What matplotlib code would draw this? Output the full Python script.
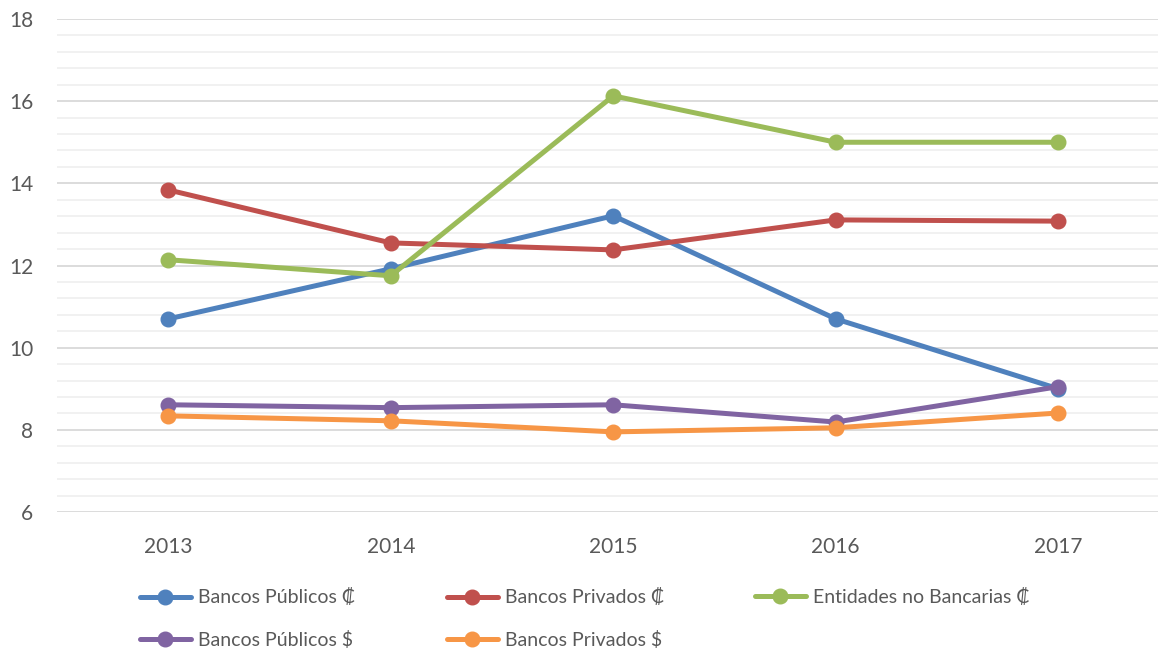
import matplotlib
matplotlib.use("Agg")
import matplotlib.pyplot as plt
from matplotlib.ticker import MultipleLocator

plt.rcParams['font.family'] = ['Lato', 'DejaVu Sans']

years = ["2013", "2014", "2015", "2016", "2017"]
series_names = ["Bancos Públicos ₡", "Bancos Privados ₡", "Entidades no Bancarias ₡",
                "Bancos Públicos $", "Bancos Privados $"]
publicos_col = [10.70, 11.92, 13.21, 10.70, 9.00]
privados_col = [13.84, 12.55, 12.38, 13.11, 13.08]
no_bancarias_col = [12.14, 11.75, 16.13, 15.00, 15.00]
publicos_usd = [8.61, 8.54, 8.61, 8.19, 9.05]
privados_usd = [8.34, 8.22, 7.95, 8.05, 8.41]
colors = ["#4f81bd", "#c0504d", "#9bbb59", "#8064a2", "#f79646"]

W, H = 1158, 654
fig = plt.figure(figsize=(W / 100, H / 100), dpi=100)
left, right, top, bottom = 57, 1158, 19, 512
ax = fig.add_axes([left / W, 1 - bottom / H, (right - left) / W, (bottom - top) / H])

x = list(range(len(years)))
all_series = [publicos_col, privados_col, no_bancarias_col, publicos_usd, privados_usd]
lines = []
for vals, name, c in zip(all_series, series_names, colors):
    ln, = ax.plot(x, vals, color=c, lw=3.6, marker='o', markersize=10.5,
                  solid_capstyle='round', label=name, zorder=3, clip_on=False)
    lines.append(ln)

cat_w = 222.5
ax.set_xlim(-0.5, -0.5 + (right - left) / cat_w)
ax.set_ylim(6, 18)
ax.set_xticks(x)
ax.set_xticklabels(years)
ax.yaxis.set_major_locator(MultipleLocator(2))
ax.yaxis.set_minor_locator(MultipleLocator(0.4))
ax.grid(axis='y', which='major', color='#d9d9d9', lw=1.3, zorder=0)
ax.grid(axis='y', which='minor', color='#f0f0f0', lw=1.3, zorder=0)
ax.grid(axis='x', visible=False)
for s in ax.spines.values():
    s.set_visible(False)
ax.tick_params(axis='both', which='both', length=0, labelsize=15, colors='#595959')
ax.tick_params(axis='y', pad=17)
ax.tick_params(axis='x', pad=18)

leg_kw = dict(frameon=False, fontsize=14, handlelength=2.6, handletextpad=0.4,
              labelspacing=1.25, borderpad=0, borderaxespad=0, numpoints=1,
              labelcolor='#595959')
fig.legend(handles=[lines[0], lines[3]], loc='center left',
           bbox_to_anchor=(140 / W, 1 - 618.5 / H), **leg_kw)
fig.legend(handles=[lines[1], lines[4]], loc='center left',
           bbox_to_anchor=(447 / W, 1 - 618.5 / H), **leg_kw)
fig.legend(handles=[lines[2]], loc='center left',
           bbox_to_anchor=(755 / W, 1 - 597 / H), **leg_kw)

fig.savefig("out.png", dpi=100)
